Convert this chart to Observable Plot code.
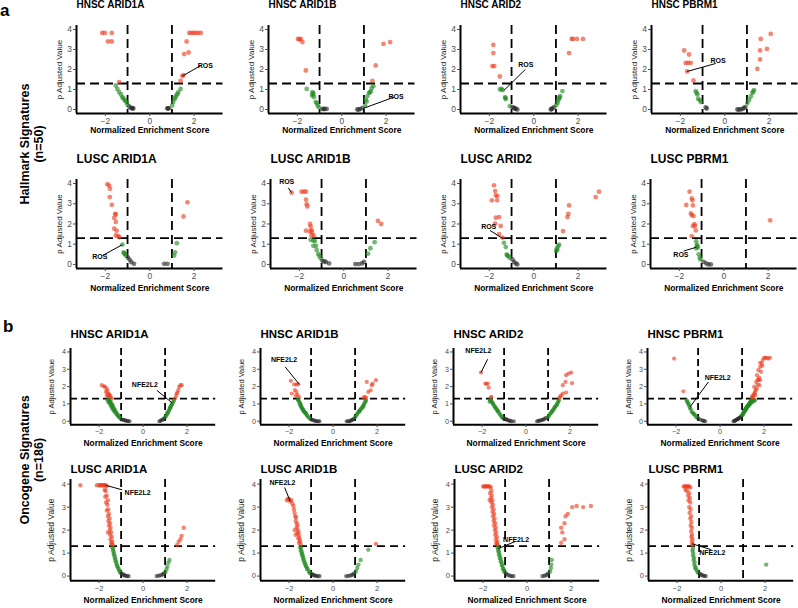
<!DOCTYPE html>
<html><head><meta charset="utf-8">
<script src="https://cdn.jsdelivr.net/npm/d3@7"></script>
<script src="https://cdn.jsdelivr.net/npm/@observablehq/plot@0.6"></script>
<style>
body{margin:0;background:#fff;}
#root{position:relative;width:798px;height:608px;overflow:hidden;background:#fff;font-family:"Liberation Sans",Arial,sans-serif;}
#root svg{position:absolute;overflow:visible;}
</style></head>
<body><div id="root"></div>
<script>
// ---------- shared values ----------
const X_DOMAIN = [-3.3, 3.3];
const Y_DOMAIN = [-0.2, 4.2];
const X_TICKS = [-2, 0, 2];
const Y_TICKS = [0, 1, 2, 3, 4];
const NES_CUT = [-1, 1];
const P_CUT = 1.3;
const X_TITLE = "Normalized Enrichment Score";
const Y_TITLE = "p Adjusted Value";
const TITLES = ["HNSC ARID1A","HNSC ARID1B","HNSC ARID2","HNSC PBRM1","LUSC ARID1A","LUSC ARID1B","LUSC ARID2","LUSC PBRM1"];
const BLOCK_LABELS = [["Hallmark Signatures","(n=50)"],["Oncogene Signatures","(n=186)"]];
const BLOCK_LETTERS = ["a","b"];
const CATS = ["sig","nes","ns"];
const COLORS = ["#ee3b1f","#228b22","#2a2a2a"];

// ---------- data: [NES, p adjusted value] ----------
const A_HNSC_ARID1A = [[-2.14,3.83],[-2.02,3.83],[-1.71,3.83],[-1.88,3.4],[-1.71,3.4],[-1.38,1.37],
 [-1.53,1.2],[-1.46,1.03],[-1.38,0.87],[-1.3,0.75],[-1.23,0.62],[-1.2,0.56],[-1.13,0.48],[-1.1,0.42],[-1.04,0.37],[-1.01,0.25],
 [-0.93,0.15],[-0.85,0.08],[-0.8,0.07],[-0.78,0.06],[-0.74,0.05],[0.79,0.06],[0.82,0.05],[0.86,0.06],
 [1.01,0.2],[1.06,0.37],[1.12,0.53],[1.15,0.6],[1.2,0.7],[1.25,0.78],[1.29,0.87],[1.39,1.03],
 [1.39,1.43],[1.47,1.67],[1.52,1.72],[1.55,2.77],[1.75,2.85],[1.66,3.4],[1.78,3.83],[1.88,3.83],[1.97,3.83],[2.08,3.83],[2.18,3.83],[2.3,3.83]];
const A_HNSC_ARID1B = [[-1.97,3.53],[-1.9,3.5],[-1.85,3.53],[-1.77,3.37],[-1.62,1.95],
 [-1.58,1.03],[-1.32,0.87],[-1.28,0.8],[-1.3,0.78],[-1.34,0.7],[-1.25,0.62],[-1.17,0.37],[-1.13,0.32],[-1.08,0.2],[-1.04,0.12],
 [-0.87,0.03],[-0.82,0.02],[-0.77,0.03],[-0.68,0.03],[0.7,0.0],[0.76,0.0],[0.83,0.02],[0.93,0.07],
 [1.05,0.2],[1.12,0.4],[1.08,0.5],[1.16,0.67],[1.23,0.83],[1.27,0.86],[1.31,0.92],[1.35,1.08],[1.43,1.17],
 [1.38,1.43],[1.53,2.2],[1.88,3.28],[2.18,3.37]];
const A_HNSC_ARID2 = [[-1.82,3.23],[-1.82,2.82],[-1.86,2.17],[-1.78,2.17],[-1.53,1.65],
 [-1.52,1.0],[-1.45,1.03],[-1.41,0.97],[-1.29,0.62],[-1.28,0.57],[-1.26,0.52],[-1.08,0.17],
 [-0.96,0.12],[-0.89,0.08],[-0.85,0.05],[-0.81,0.03],[-0.74,0.0],[0.77,0.0],[0.8,0.02],[0.84,0.05],[0.92,0.12],
 [1.01,0.22],[1.07,0.33],[1.1,0.45],[1.14,0.55],[1.16,0.6],[1.19,0.67],[1.29,0.92],
 [1.59,2.82],[1.71,3.53],[1.77,3.53],[1.95,3.53],[2.22,3.53]];
const A_HNSC_PBRM1 = [[-1.83,2.95],[-1.61,2.75],[-1.76,2.33],[-1.65,2.33],[-1.53,2.33],[-1.7,1.9],[-1.41,1.45],
 [-1.31,0.92],[-1.27,0.83],[-1.23,0.75],[-1.2,0.53],[-1.12,0.47],[-1.08,0.37],
 [-0.86,0.1],[-0.81,0.05],[0.57,0.0],[0.63,0.0],[0.72,0.0],[0.8,0.03],[0.87,0.08],[0.93,0.12],
 [1.02,0.32],[1.1,0.48],[1.17,0.65],[1.25,0.83],[1.28,0.9],[1.32,0.97],
 [1.47,2.03],[1.59,2.5],[1.59,2.95],[1.62,3.53],[1.9,3.03],[2.07,3.78]];
const A_LUSC_ARID1A = [[-1.91,3.97],[-1.83,3.9],[-1.79,3.74],[-1.8,3.33],[-1.71,2.95],[-1.56,2.5],[-1.53,2.47],[-1.6,2.3],[-1.53,2.1],[-1.6,1.77],[-1.49,1.66],[-1.53,1.43],[-1.42,1.4],[-1.38,1.35],
 [-1.23,0.98],[-1.18,0.6],[-1.15,0.55],[-1.12,0.52],[-1.08,0.44],
 [-0.98,0.33],[-0.9,0.23],[-0.83,0.11],[-0.71,0.03],[0.65,0.03],[0.8,0.03],
 [1.1,0.44],[1.14,0.6],[1.22,1.05],[1.52,2.37],[1.7,3.07]];
const A_LUSC_ARID1B = [[-2.35,3.55],[-1.9,3.6],[-1.79,3.6],[-1.7,3.6],[-1.7,3.2],[-1.67,2.98],[-1.64,2.87],[-1.52,2.0],[-1.49,1.87],[-1.45,1.7],[-1.52,1.63],[-1.7,1.67],[-1.43,1.6],[-1.45,1.43],[-1.35,1.43],
 [-1.49,1.22],[-1.37,1.18],[-1.3,1.15],[-1.37,0.92],[-1.25,0.92],[-1.22,0.72],[-1.15,0.52],[-1.1,0.42],[-1.04,0.3],
 [-0.96,0.18],[-0.88,0.15],[-0.81,0.12],[-0.66,0.05],[0.52,0.02],[0.67,0.02],[0.82,0.05],[0.91,0.12],
 [1.09,0.53],[1.2,0.8],[1.39,1.1],[1.54,2.15],[1.69,2.0]];
const A_LUSC_ARID2 = [[-1.79,3.91],[-1.74,3.63],[-1.71,3.41],[-1.64,3.38],[-1.89,3.17],[-1.65,3.17],[-1.71,2.31],[-1.56,2.34],[-1.74,2.02],[-1.49,1.9],[-1.56,1.5],[-1.41,1.33],
 [-1.34,1.07],[-1.26,0.86],[-1.22,0.5],[-1.19,0.45],[-1.16,0.41],[-1.08,0.33],
 [-0.96,0.25],[-0.89,0.13],[-0.81,0.05],[-0.74,0.0],
 [1.01,0.66],[1.04,0.79],[1.06,0.72],[1.1,0.9],[1.14,0.98],
 [1.32,1.65],[1.52,2.34],[1.56,2.5],[1.59,2.92],[2.79,3.33],[2.94,3.6]];
const A_LUSC_PBRM1 = [[-1.54,3.6],[-1.44,3.27],[-1.41,3.17],[-1.69,2.94],[-1.39,2.92],[-1.48,2.52],[-1.44,2.44],[-1.36,2.39],[-1.32,1.99],[-1.29,1.9],[-1.39,1.9],[-1.26,1.68],[-1.44,1.4],
 [-1.24,1.15],[-1.21,0.98],[-1.2,0.9],[-1.17,0.85],[-1.24,0.79],[-1.13,0.5],[-1.08,0.33],[-1.05,0.25],
 [-0.91,0.13],[-0.79,0.05],[-0.69,0.0],[-0.58,0.0],[2.09,2.18]];

const B_HNSC_ARID1A = [[-1.88,2.08],[-1.78,2.02],[-1.73,1.98],[-1.65,1.88],[-1.62,1.75],[-1.69,1.69],[-1.58,1.6],[-1.55,1.55],[-1.5,1.5],[-1.65,1.5],[-1.6,1.45],[-1.47,1.4],[-1.53,1.35],[-1.42,1.31],
 [-1.62,1.21],[-1.57,1.25],[-1.53,1.18],[-1.58,1.08],[-1.55,1.2],[-1.52,1.1],[-1.48,1.15],[-1.5,0.96],[-1.47,1.0],[-1.43,1.02],[-1.45,0.83],[-1.42,0.9],[-1.4,0.95],[-1.38,0.8],[-1.36,0.86],[-1.39,0.69],[-1.35,0.72],[-1.32,0.58],[-1.3,0.65],[-1.29,0.7],[-1.27,0.55],[-1.24,0.46],[-1.22,0.52],[-1.2,0.42],[-1.17,0.35],[-1.14,0.3],[-1.12,0.36],[-1.09,0.23],[-1.06,0.2],[-1.02,0.15],
 [-0.97,0.1],[-0.9,0.08],[-0.86,0.06],[-0.8,0.04],[-0.74,0.02],[-0.68,0.01],[-0.62,0.0],
 [0.74,0.0],[0.8,0.03],[0.85,0.06],[0.92,0.12],[0.96,0.17],
 [1.01,0.25],[1.05,0.3],[1.08,0.39],[1.12,0.45],[1.1,0.5],[1.15,0.54],[1.18,0.62],[1.2,0.69],[1.23,0.75],[1.22,0.8],[1.26,0.83],[1.28,0.9],[1.3,0.96],[1.32,1.0],[1.34,1.05],[1.38,1.12],[1.4,1.2],
 [1.45,1.31],[1.5,1.45],[1.53,1.6],[1.56,1.65],[1.6,1.8],[1.64,1.98],[1.7,2.08],[1.76,2.08]];
const B_HNSC_ARID1B = [[-1.92,2.33],[-1.77,2.12],[-1.67,2.12],[-1.59,2.14],[-1.74,1.8],[-1.67,1.7],[-1.88,1.6],[-1.62,1.54],[-1.7,1.45],[-1.55,1.4],
 [-1.6,1.22],[-1.59,1.27],[-1.56,1.2],[-1.55,1.12],[-1.5,1.05],[-1.52,0.96],[-1.48,1.0],[-1.47,0.83],[-1.45,0.9],[-1.42,0.78],[-1.4,0.75],[-1.39,0.69],[-1.36,0.65],[-1.35,0.62],[-1.33,0.58],[-1.3,0.52],[-1.27,0.5],[-1.25,0.48],[-1.24,0.44],[-1.21,0.38],[-1.18,0.31],[-1.14,0.26],[-1.09,0.19],[-1.03,0.12],
 [-0.97,0.1],[-0.92,0.07],[-0.86,0.04],[-0.8,0.02],[-0.74,0.0],[-0.68,0.0],[-0.62,0.0],
 [0.62,0.0],[0.68,0.0],[0.74,0.0],[0.8,0.03],[0.85,0.06],[0.9,0.1],[0.95,0.15],
 [1.01,0.25],[1.05,0.32],[1.08,0.39],[1.12,0.46],[1.15,0.54],[1.2,0.55],[1.19,0.6],[1.23,0.64],[1.26,0.7],[1.3,0.77],[1.34,0.84],[1.36,0.8],[1.38,0.89],[1.4,0.95],[1.42,1.02],[1.45,1.1],[1.48,1.16],[1.5,1.22],
 [1.38,1.37],[1.45,1.41],[1.5,1.35],[1.6,1.69],[1.71,1.79],[1.76,2.08],[1.8,2.17],[1.53,2.27],[1.95,2.37]];
const B_HNSC_ARID2 = [[-2.05,2.81],[-1.85,2.18],[-1.8,2.15],[-1.74,2.18],[-1.7,1.94],[-1.58,1.41],[-1.6,1.36],
 [-1.66,1.12],[-1.63,1.2],[-1.61,1.21],[-1.58,1.15],[-1.54,1.08],[-1.52,1.05],[-1.5,1.0],[-1.46,0.92],[-1.43,0.85],[-1.4,0.8],[-1.39,0.77],[-1.35,0.7],[-1.31,0.64],[-1.3,0.6],[-1.28,0.57],[-1.24,0.5],[-1.2,0.42],[-1.16,0.35],[-1.12,0.28],[-1.09,0.21],[-1.05,0.18],
 [-0.99,0.15],[-0.94,0.12],[-0.89,0.1],[-0.84,0.07],[-0.79,0.04],[-0.72,0.02],[-0.67,0.0],[-0.56,0.0],
 [0.5,0.0],[0.56,0.02],[0.62,0.04],[0.68,0.05],[0.74,0.08],[0.8,0.1],[0.85,0.15],[0.92,0.2],
 [1.01,0.25],[1.04,0.32],[1.07,0.39],[1.11,0.45],[1.15,0.5],[1.18,0.57],[1.2,0.6],[1.22,0.64],[1.26,0.7],[1.29,0.77],[1.3,0.8],[1.33,0.85],[1.37,0.92],[1.4,0.95],[1.41,1.0],[1.45,1.08],[1.47,1.15],[1.49,1.21],
 [1.52,1.35],[1.55,1.42],[1.6,1.5],[1.67,1.6],[1.82,1.66],[1.67,2.08],[1.79,2.27],[2.09,2.2],[1.82,2.66],[1.93,2.75],[2.05,2.81]];
const B_HNSC_PBRM1 = [[-2.09,3.62],[-1.67,1.73],
 [-1.52,1.21],[-1.5,1.15],[-1.48,1.08],[-1.44,0.96],[-1.42,1.0],[-1.39,0.83],[-1.36,0.76],[-1.33,0.69],[-1.29,0.54],[-1.25,0.5],[-1.21,0.44],[-1.18,0.4],[-1.14,0.35],[-1.09,0.25],[-1.04,0.2],
 [-0.98,0.15],[-0.88,0.08],[-0.79,0.04],[-0.74,0.02],[-0.68,0.0],
 [0.61,0.0],[0.65,0.02],[0.68,0.04],[0.72,0.06],[0.76,0.1],[0.8,0.12],[0.83,0.15],[0.87,0.18],[0.91,0.23],[0.95,0.28],
 [1.01,0.35],[1.02,0.38],[1.03,0.4],[1.05,0.45],[1.06,0.48],[1.08,0.52],[1.1,0.55],[1.11,0.6],[1.12,0.58],[1.14,0.65],[1.15,0.72],[1.17,0.69],[1.18,0.68],[1.19,0.75],[1.2,0.78],[1.21,0.83],[1.22,0.8],[1.25,0.88],[1.25,0.9],[1.28,0.85],[1.29,0.92],[1.3,0.95],[1.31,0.98],[1.32,0.95],[1.33,1.02],[1.35,1.05],[1.36,1.08],[1.38,1.0],[1.39,1.12],[1.4,1.15],[1.42,1.18],[1.43,1.2],[1.44,1.21],[1.45,1.1],[1.47,1.25],[1.48,1.12],[1.5,1.2],[1.53,1.24],[1.55,1.18],[1.6,1.22],
 [1.44,1.4],[1.48,1.45],[1.5,1.35],[1.52,1.54],[1.56,1.6],[1.6,1.5],[1.59,1.69],[1.62,1.8],[1.67,1.88],[1.55,1.98],[1.79,2.08],[1.7,2.1],[1.64,2.27],[1.74,2.37],[1.72,2.4],[1.82,2.37],[1.78,2.5],[1.68,2.66],[1.86,2.85],[1.74,2.95],[1.82,3.14],[1.92,3.2],[1.89,3.33],[1.82,3.37],[1.94,3.53],[2.0,3.66],[2.05,3.66],[2.12,3.66],[2.18,3.62],[2.27,3.66]];
const B_LUSC_ARID1A = [[-2.85,3.95],[-2.1,3.95],[-2.0,3.95],[-1.95,3.95],[-1.9,3.95],[-1.85,3.95],[-1.8,3.95],[-1.75,3.95],[-1.7,3.95],[-1.65,3.9],[-1.75,3.75],[-1.7,3.7],[-1.65,3.5],[-1.72,3.45],[-1.6,3.3],[-1.68,3.2],[-1.62,3.1],[-1.58,2.9],[-1.65,2.85],[-1.55,2.7],[-1.6,2.6],[-1.52,2.5],[-1.58,2.4],[-1.5,2.3],[-1.55,2.2],[-1.48,2.1],[-1.52,2.0],[-1.45,1.9],[-1.6,1.9],[-1.5,1.8],[-1.42,1.7],[-1.48,1.6],[-1.4,1.5],[-1.45,1.45],[-1.42,1.38],[-1.38,1.35],
 [-1.4,1.25],[-1.36,1.2],[-1.37,1.1],[-1.33,1.05],[-1.33,0.95],[-1.3,0.9],[-1.29,0.8],[-1.26,0.75],[-1.25,0.65],[-1.22,0.6],[-1.2,0.5],[-1.18,0.45],[-1.15,0.38],[-1.12,0.32],[-1.08,0.25],[-1.06,0.2],[-1.03,0.15],
 [-0.97,0.1],[-0.92,0.07],[-0.86,0.04],[-0.8,0.02],[-0.73,0.0],[-0.66,0.0],
 [0.62,0.0],[0.72,0.02],[0.82,0.04],[0.9,0.08],[0.95,0.12],
 [1.02,0.18],[1.06,0.3],[1.1,0.42],[1.15,0.58],[1.2,0.7],
 [1.55,1.35],[1.62,1.5],[1.7,1.6],[1.75,1.75],[1.85,2.1]];
const B_LUSC_ARID1B = [[-2.1,3.3],[-2.05,3.35],[-2.0,3.35],[-1.95,3.25],[-1.9,3.3],[-1.85,3.15],[-1.8,3.05],[-1.78,2.9],[-1.75,2.75],[-1.72,2.6],[-1.68,2.55],[-1.7,2.4],[-1.65,2.3],[-1.62,2.2],[-1.66,2.1],[-1.75,2.0],[-1.6,2.0],[-1.57,1.9],[-1.62,1.85],[-1.7,1.8],[-1.55,1.75],[-1.58,1.65],[-1.52,1.6],[-1.5,1.5],[-1.55,1.45],[-1.47,1.38],
 [-1.5,1.25],[-1.46,1.22],[-1.47,1.12],[-1.43,1.08],[-1.43,0.98],[-1.4,0.95],[-1.39,0.86],[-1.36,0.82],[-1.35,0.72],[-1.32,0.68],[-1.3,0.58],[-1.27,0.55],[-1.25,0.45],[-1.22,0.42],[-1.18,0.33],[-1.16,0.3],[-1.1,0.2],[-1.06,0.15],[-1.02,0.12],
 [-0.96,0.08],[-0.9,0.05],[-0.84,0.03],[-0.78,0.01],[-0.7,0.0],[-0.62,0.0],
 [0.6,0.0],[0.7,0.01],[0.8,0.03],[0.88,0.06],[0.95,0.1],
 [1.04,0.2],[1.1,0.35],[1.15,0.5],[1.25,0.7],[1.6,1.15],[1.95,1.4]];
const B_LUSC_ARID2 = [[-2.0,3.9],[-1.95,3.9],[-1.9,3.9],[-1.85,3.9],[-1.8,3.9],[-1.75,3.9],[-1.7,3.9],[-1.65,3.85],[-1.62,3.7],[-1.68,3.6],[-1.6,3.5],[-1.65,3.4],[-1.7,3.3],[-1.58,3.3],[-1.62,3.2],[-1.55,3.1],[-1.6,3.0],[-1.52,2.9],[-1.57,2.8],[-1.5,2.7],[-1.55,2.6],[-1.48,2.5],[-1.52,2.4],[-1.45,2.3],[-1.5,2.2],[-1.42,2.1],[-1.47,2.0],[-1.4,1.9],[-1.45,1.8],[-1.37,1.7],[-1.42,1.6],[-1.35,1.5],[-1.4,1.45],[-1.38,1.38],[-1.33,1.35],
 [-1.34,1.22],[-1.3,1.2],[-1.31,1.08],[-1.27,1.05],[-1.28,0.93],[-1.24,0.9],[-1.24,0.78],[-1.2,0.75],[-1.2,0.63],[-1.16,0.6],[-1.15,0.48],[-1.12,0.45],[-1.1,0.33],[-1.07,0.3],[-1.05,0.22],[-1.02,0.18],
 [-0.95,0.1],[-0.87,0.05],[-0.78,0.02],[-0.7,0.0],[-0.62,0.0],
 [0.7,0.0],[0.8,0.02],[0.88,0.05],[0.95,0.1],
 [1.05,0.2],[1.08,0.35],[1.1,0.5],[1.12,0.7],
 [1.55,1.45],[1.7,1.6],[1.6,1.9],[1.55,2.1],[1.7,2.3],[1.75,2.6],[1.85,2.7],[2.05,3.0],[2.25,3.05],[2.55,3.0],[2.9,3.05]];
const B_LUSC_PBRM1 = [[-1.7,3.9],[-1.65,3.9],[-1.6,3.9],[-1.55,3.9],[-1.5,3.9],[-1.45,3.9],[-1.4,3.85],[-1.62,3.75],[-1.55,3.7],[-1.45,3.6],[-1.5,3.5],[-1.42,3.4],[-1.48,3.3],[-1.4,3.2],[-1.45,3.0],[-1.38,2.9],[-1.43,2.75],[-1.36,2.6],[-1.4,2.5],[-1.35,2.35],[-1.38,2.2],[-1.33,2.1],[-1.36,1.95],[-1.32,1.8],[-1.35,1.7],[-1.3,1.6],[-1.33,1.5],[-1.29,1.4],[-1.31,1.35],
 [-1.28,1.2],[-1.3,1.1],[-1.26,1.0],[-1.28,0.9],[-1.23,0.8],[-1.25,0.7],[-1.2,0.6],[-1.22,0.5],[-1.16,0.4],[-1.18,0.35],[-1.12,0.28],[-1.08,0.2],[-1.04,0.15],
 [-0.97,0.1],[-0.9,0.06],[-0.84,0.03],[-0.77,0.01],[-0.7,0.0],[2.05,0.5]];

const PANEL_DATA = [
 [A_HNSC_ARID1A, A_HNSC_ARID1B, A_HNSC_ARID2, A_HNSC_PBRM1],
 [A_LUSC_ARID1A, A_LUSC_ARID1B, A_LUSC_ARID2, A_LUSC_PBRM1],
 [B_HNSC_ARID1A, B_HNSC_ARID1B, B_HNSC_ARID2, B_HNSC_PBRM1],
 [B_LUSC_ARID1A, B_LUSC_ARID1B, B_LUSC_ARID2, B_LUSC_PBRM1]
];

// annotations: labelled gene set, point, leader end, text position
const ANNOTATIONS = [
 [{label:"ROS",px:1.47,py:1.67,ex:2.3,ey:2.2,tx:2.5,ty:2.2,anchor:"start"},
  {label:"ROS",px:0.96,py:0.05,ex:2.36,ey:0.62,tx:2.45,ty:0.62,anchor:"start"},
  {label:"ROS",px:-1.35,py:0.95,ex:-0.38,ey:2.0,tx:-0.36,ty:2.25,anchor:"start"},
  {label:"ROS",px:-1.7,py:1.9,ex:-0.41,ey:2.3,tx:-0.3,ty:2.42,anchor:"start"}],
 [{label:"ROS",px:-1.23,py:0.98,ex:-2.13,ey:0.44,tx:-2.25,ty:0.36,anchor:"end"},
  {label:"ROS",px:-2.35,py:3.55,ex:-2.5,ey:3.79,tx:-2.57,ty:4.1,anchor:"middle"},
  {label:"ROS",px:-1.41,py:1.29,ex:-1.97,ey:1.68,tx:-2.03,ty:1.85,anchor:"end"},
  {label:"ROS",px:-1.24,py:0.85,ex:-1.81,ey:0.66,tx:-1.93,ty:0.5,anchor:"end"}],
 [{label:"NFE2L2",px:1.3,py:1.08,ex:0.62,ey:1.79,tx:0.08,ty:2.08,anchor:"middle"},
  {label:"NFE2L2",px:-1.53,py:2.12,ex:-2.18,ey:3.14,tx:-2.23,ty:3.53,anchor:"middle"},
  {label:"NFE2L2",px:-2.05,py:2.81,ex:-1.75,ey:3.58,tx:-2.17,ty:4.06,anchor:"middle"},
  {label:"NFE2L2",px:-1.36,py:0.83,ex:-0.53,ey:2.27,tx:-0.11,ty:2.5,anchor:"middle"}],
 [{label:"NFE2L2",px:-1.7,py:3.95,ex:-0.95,ey:3.75,tx:-0.25,ty:3.62,anchor:"middle"},
  {label:"NFE2L2",px:-1.95,py:3.25,ex:-2.2,ey:3.85,tx:-2.3,ty:4.05,anchor:"middle"},
  {label:"NFE2L2",px:-1.3,py:1.2,ex:-0.55,ey:1.5,tx:-0.5,ty:1.6,anchor:"start"},
  {label:"NFE2L2",px:-1.3,py:1.4,ex:-0.45,ey:1.15,tx:-0.4,ty:1.0,anchor:"start"}]
];

// ---------- layout ----------
const ROWS = [
 {top:25, h:88, zeros:[149,341,533,724], ppu:22.2, titleGap:17.5, titleSize:10, xTitleGap:20, tick:8.4, ylab:8, ylabDx:-17, r:2.4, dash:"9,5", titleIdx:0},
 {top:179, h:89, zeros:[149,343,533,723.5], ppu:22.2, titleGap:16.3, titleSize:12, xTitleGap:23, tick:8.4, ylab:8, ylabDx:-17.5, r:2.4, dash:"9,5", titleIdx:4},
 {top:348.3, h:76.2, zeros:[143,333,526,720], ppu:22, titleGap:10.3, titleSize:11.5, xTitleGap:21.5, tick:7.2, ylab:7.5, ylabDx:-19, r:2.1, dash:"7,4", titleIdx:0},
 {top:479.4, h:101.2, zeros:[143,333,527,721], ppu:22, titleGap:6.5, titleSize:11.5, xTitleGap:22, tick:7.5, ylab:8.5, ylabDx:-19, r:2.2, dash:"8,5", titleIdx:4}
];
const FONT = "'Liberation Sans', Arial, sans-serif";
const root = document.getElementById("root");
const cat = d => d[1] > P_CUT ? "sig" : Math.abs(d[0]) >= 1 ? "nes" : "ns";

ROWS.forEach((row, ri) => {
  row.zeros.forEach((zero, ci) => {
    const w = (X_DOMAIN[1] - X_DOMAIN[0]) * row.ppu;
    const left = zero + X_DOMAIN[0] * row.ppu;
    const ml = 40, mr = 12, mt = 26, mb = 30;
    const data = PANEL_DATA[ri][ci];
    const ann = [ANNOTATIONS[ri][ci]];
    const svg = Plot.plot({
      width: w + ml + mr, height: row.h + mt + mb,
      marginLeft: ml, marginRight: mr, marginTop: mt, marginBottom: mb,
      x: {domain: X_DOMAIN},
      y: {domain: Y_DOMAIN},
      color: {domain: CATS, range: COLORS},
      style: {fontFamily: FONT, background: "none", overflow: "visible"},
      marks: [
        Plot.ruleX(NES_CUT, {stroke: "black", strokeWidth: 1.8, strokeDasharray: row.dash}),
        Plot.ruleY([P_CUT], {stroke: "black", strokeWidth: 1.8, strokeDasharray: row.dash}),
        Plot.dot(data, {x: d => d[0], y: d => d[1], r: row.r, fill: cat, fillOpacity: 0.62, stroke: "none"}),
        Plot.link(ann, {x1: "px", y1: "py", x2: "ex", y2: "ey", stroke: "black", strokeWidth: 1}),
        Plot.text(ann, {x: "tx", y: "ty", text: "label", textAnchor: d => d.anchor, fontSize: 7, fontWeight: "bold", fill: "black"}),
        Plot.ruleX([X_DOMAIN[0]], {stroke: "black", strokeWidth: 2}),
        Plot.ruleY([Y_DOMAIN[0]], {stroke: "black", strokeWidth: 2}),
        Plot.axisX(X_TICKS, {tickSize: 3, tickPadding: 1.5, fontSize: row.tick, color: "#4d4d4d", label: null}),
        Plot.axisY(Y_TICKS, {tickSize: 3, tickPadding: 1.5, fontSize: row.tick, color: "#4d4d4d", label: null}),
        Plot.text([TITLES[row.titleIdx + ci]], {text: d => d, frameAnchor: "top-left", textAnchor: "start", lineAnchor: "bottom", dy: -row.titleGap, fontSize: row.titleSize, fontWeight: "bold", fill: "black"}),
        Plot.text([X_TITLE], {text: d => d, frameAnchor: "bottom", textAnchor: "middle", lineAnchor: "bottom", dy: row.xTitleGap, fontSize: 8.4, fontWeight: "bold", fill: "black"}),
        Plot.text([Y_TITLE], {text: d => d, frameAnchor: "left", rotate: -90, textAnchor: "middle", lineAnchor: "middle", dx: row.ylabDx, fontSize: row.ylab, fill: "#1a1a1a"})
      ]
    });
    svg.style.left = (left - ml) + "px";
    svg.style.top = (row.top - mt) + "px";
    root.appendChild(svg);
  });
});

// overlay: block letters and row labels
const over = d3.select(root).append("svg").attr("width", 798).attr("height", 608)
  .style("left", "0px").style("top", "0px").style("font-family", FONT);
const LETTER_POS = [[0, 16], [3, 332]];
BLOCK_LETTERS.forEach((t, i) => over.append("text").attr("x", LETTER_POS[i][0]).attr("y", LETTER_POS[i][1])
  .attr("font-size", 17).attr("font-weight", "bold").text(t));
const LABEL_Y = [144, 460];
const LABEL_X = [29, 43];
BLOCK_LABELS.forEach((lines, i) => {
  lines.forEach((t, j) => {
    over.append("text").attr("transform", `translate(${LABEL_X[j]},${LABEL_Y[i]}) rotate(-90)`)
      .attr("text-anchor", "middle").attr("font-size", 12.5).attr("font-weight", "bold").text(t);
  });
});
</script>
</body></html>
